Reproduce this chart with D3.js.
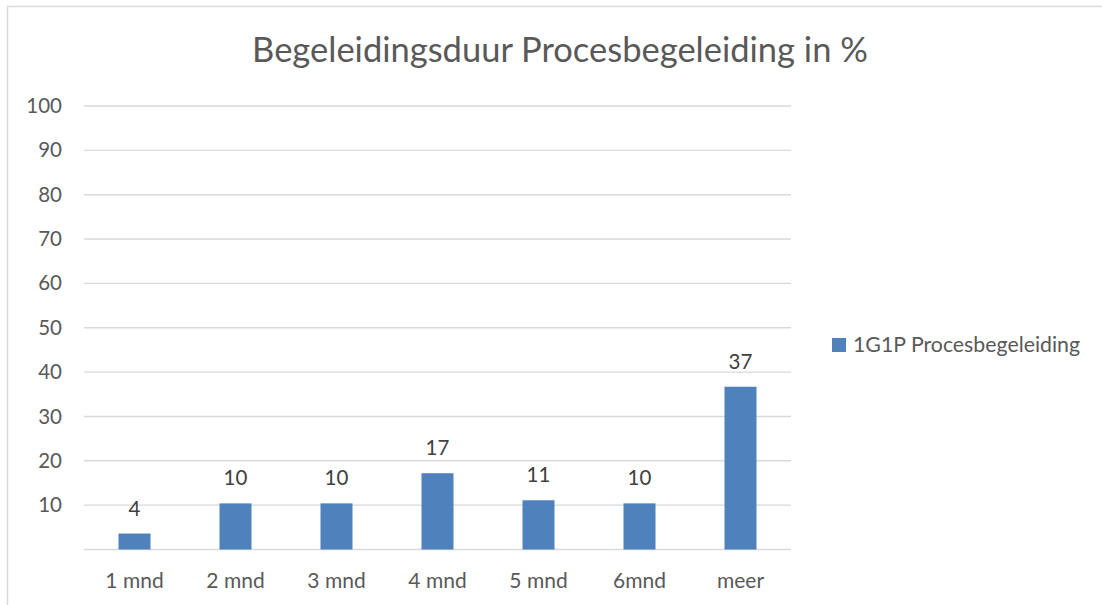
<!DOCTYPE html>
<html>
<head>
<meta charset="utf-8">
<script src="https://cdn.jsdelivr.net/npm/d3@7"></script>
<style>
  body { margin: 0; background: #fff; }
  text { font-family: Lato, "Open Sans", sans-serif; }
</style>
</head>
<body>
<script>
// chart data
var categories = ["1 mnd", "2 mnd", "3 mnd", "4 mnd", "5 mnd", "6mnd", "meer"];
var values = [3.6, 10.4, 10.4, 17.2, 11.1, 10.4, 36.7];
var yTicks = [10, 20, 30, 40, 50, 60, 70, 80, 90, 100];
var seriesName = "1G1P Procesbegeleiding";
var chartTitle = "Begeleidingsduur Procesbegeleiding in %";

main();

function main() {
  setupCanvasSize();
  appendSvg("body");
  setupScales();
  appendFrame();
  appendGrid();
  appendBars();
  appendLabels();
  appendXAxis();
  appendYAxis();
  addTitle();
  addLegend();
}

function setupCanvasSize() {
  W = 1102;
  H = 605;
  plot = { left: 84, right: 791, top: 106, bottom: 549.5 };
}

function appendSvg(domElement) {
  svg = d3.select(domElement).append("svg")
    .attr("width", W)
    .attr("height", H);
}

function setupScales() {
  x = d3.scaleBand()
    .domain(categories)
    .range([plot.left, plot.right])
    .paddingInner(0.683)
    .paddingOuter(0.683 / 2);
  y = d3.scaleLinear()
    .domain([0, 100])
    .range([plot.bottom, plot.top]);
}

function appendFrame() {
  // chart border, cut off on the right and bottom in the original
  svg.append("rect")
    .attr("x", 7.5).attr("y", 6.5)
    .attr("width", 1300).attr("height", 800)
    .attr("fill", "none")
    .attr("stroke", "#d9d9d9")
    .attr("stroke-width", 1.5);
}

function appendGrid() {
  svg.append("g")
    .selectAll("line")
    .data([0].concat(yTicks))
    .enter()
    .append("line")
    .attr("x1", plot.left).attr("x2", plot.right)
    .attr("y1", function (d) { return y(d); })
    .attr("y2", function (d) { return y(d); })
    .attr("stroke", "#d9d9d9")
    .attr("stroke-width", 1.4);
}

function appendBars() {
  svg.append("g")
    .selectAll("rect")
    .data(values)
    .enter()
    .append("rect")
    .attr("x", function (d, i) { return x(categories[i]); })
    .attr("y", function (d) { return y(d); })
    .attr("width", x.bandwidth())
    .attr("height", function (d) { return y(0) - y(d); })
    .attr("fill", "#4f81bd");
}

function appendLabels() {
  svg.append("g")
    .selectAll("text")
    .data(values)
    .enter()
    .append("text")
    .attr("x", function (d, i) { return x(categories[i]) + x.bandwidth() / 2; })
    .attr("y", function (d) { return y(d) - 18; })
    .attr("text-anchor", "middle")
    .attr("fill", "#404040")
    .style("font-size", "20.5px")
    .text(function (d) { return Math.round(d); });
}

function appendXAxis() {
  var g = svg.append("g")
    .attr("transform", "translate(0," + plot.bottom + ")")
    .call(d3.axisBottom(x).tickSize(0).tickPadding(24));
  g.select(".domain").remove();
  g.selectAll("text")
    .attr("fill", "#595959")
    .style("font-size", "21px")
    .style("font-family", "Lato, 'Open Sans', sans-serif");
}

function appendYAxis() {
  var g = svg.append("g")
    .attr("transform", "translate(62,0)")
    .call(d3.axisLeft(y).tickValues(yTicks).tickSize(0).tickPadding(0));
  g.select(".domain").remove();
  g.selectAll("text")
    .attr("fill", "#595959")
    .style("font-size", "20.5px")
    .style("font-family", "Lato, 'Open Sans', sans-serif");
}

function addTitle() {
  svg.append("text")
    .attr("x", 560)
    .attr("y", 62)
    .attr("text-anchor", "middle")
    .attr("fill", "#595959")
    .style("font-size", "34.5px")
    .text(chartTitle);
}

function addLegend() {
  var lg = svg.append("g").attr("transform", "translate(832,338)");
  lg.append("rect")
    .attr("width", 14).attr("height", 14)
    .attr("fill", "#4f81bd");
  lg.append("text")
    .attr("x", 21).attr("y", 7)
    .attr("dy", "0.35em")
    .attr("fill", "#595959")
    .style("font-size", "21.3px")
    .text(seriesName);
}
</script>
</body>
</html>
